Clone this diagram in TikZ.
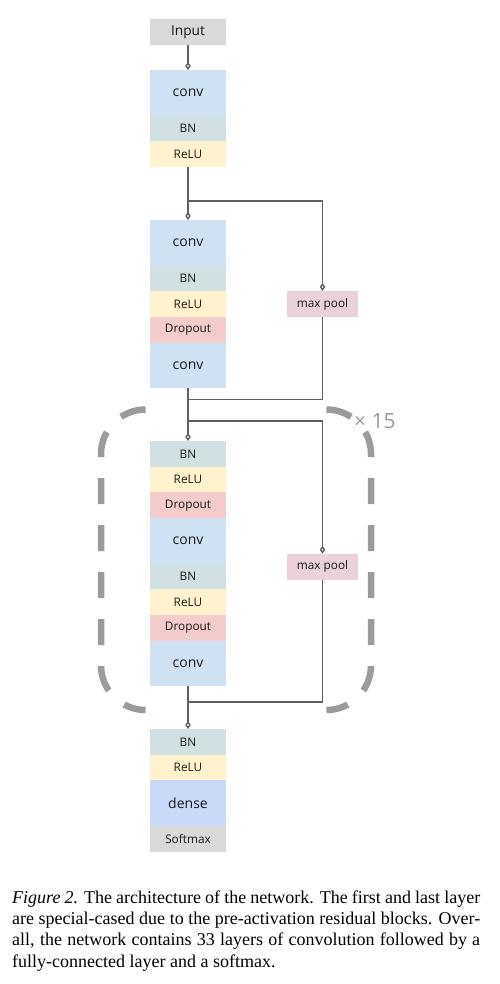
\documentclass[tikz,border=0pt]{standalone}
\usepackage{fontspec}
\setmainfont{Liberation Serif}
\newfontfamily\boxfont{Open Sans}
\usepackage{tikz}
\usetikzlibrary{arrows.meta,positioning}
\definecolor{convcol}{HTML}{CFE2F3}
\definecolor{bncol}{HTML}{D0E0E3}
\definecolor{relucol}{HTML}{FFF2CC}
\definecolor{dropcol}{HTML}{F4CCCC}
\definecolor{poolcol}{HTML}{EAD1DC}
\definecolor{densecol}{HTML}{C9DAF8}
\definecolor{iocol}{HTML}{D9D9D9}
\definecolor{wirecol}{HTML}{606060}
\definecolor{loopcol}{HTML}{9B9B9B}

\begin{document}
\begin{tikzpicture}[x=1pt, y=-1pt,
  layer/.style={minimum width=76pt, minimum height=25.7pt, inner sep=0pt, outer sep=0pt, text=black!90, font=\boxfont\fontsize{11.8}{13}\selectfont},
  biglayer/.style={layer, minimum height=45.5pt, font=\boxfont\fontsize{14}{15}\selectfont},
  convbox/.style={biglayer, fill=convcol},
  densebox/.style={biglayer, fill=densecol},
  bnbox/.style={layer, fill=bncol},
  relubox/.style={layer, fill=relucol},
  dropbox/.style={layer, fill=dropcol},
  iobox/.style={layer, fill=iocol},
  poolbox/.style={layer, fill=poolcol, minimum width=71pt, minimum height=26pt},
  wire/.style={draw=wirecol, line width=1.9pt},
  link/.style={wire, -{Diamond[open, length=8pt, width=5.5pt, line width=1.4pt]}},
  loopline/.style={draw=loopcol, line width=6.5pt, dash pattern=on 26pt off 21pt, rounded corners=44.6pt}
]
\useasboundingbox (0,0) rectangle (499,984);

% input and first layer
\node[iobox, anchor=north, font=\boxfont\fontsize{13.7}{15}\selectfont] (input) at (188,19.5) {Input};
\node[convbox, anchor=north] (conva) at (188,70) {conv};
\node[bnbox, below=0pt of conva] (bna) {BN};
\node[relubox, below=0pt of bna] (relua) {ReLU};

% first residual block
\node[convbox, anchor=north] (convb) at (188,220) {conv};
\node[bnbox, below=0pt of convb] (bnb) {BN};
\node[relubox, below=0pt of bnb] (relub) {ReLU};
\node[dropbox, below=0pt of relub] (dropb) {Dropout};
\node[convbox, below=0pt of dropb] (convc) {conv};
\node[poolbox] (poola) at (322.5,304) {max pool};

% repeated block
\node[bnbox, anchor=north] (bnc) at (188,441) {BN};
\node[relubox, below=0pt of bnc] (reluc) {ReLU};
\node[dropbox, below=0pt of reluc] (dropc) {Dropout};
\node[convbox, below=0pt of dropc] (convd) {conv};
\node[bnbox, below=0pt of convd] (bnd) {BN};
\node[relubox, below=0pt of bnd] (relud) {ReLU};
\node[dropbox, below=0pt of relud] (dropd) {Dropout};
\node[convbox, below=0pt of dropd] (conve) {conv};
\node[poolbox] (poolb) at (322.5,566.7) {max pool};

% output layers
\node[bnbox, anchor=north] (bne) at (188,729) {BN};
\node[relubox, below=0pt of bne] (relue) {ReLU};
\node[densebox, below=0pt of relue] (dense) {dense};
\node[iobox, below=0pt of dense] (softmax) {Softmax};

% connections
\coordinate (splita) at (188,201);
\coordinate (joina) at (188,399.5);
\coordinate (splitb) at (188,421);
\coordinate (joinb) at (188,702);
\draw[link] (input) -- (conva);
\draw[link] (relua) -- (convb);
\draw[link] (splita) -| (poola);
\draw[wire] (poola) |- (joina);
\draw[link] (convc) -- (bnc);
\draw[link] (splitb) -| (poolb);
\draw[wire] (poolb) |- (joinb);
\draw[link] (conve) -- (bne);

% repeat bracket
\draw[loopline] (145.6,409.5) -- (101,409.5) -- (101,710) -- (145.6,710);
\draw[loopline] (326.4,409.5) -- (371,409.5) -- (371,710) -- (326.4,710);
\node[anchor=west, inner sep=0pt, text=loopcol, font=\boxfont\fontsize{21}{24}\selectfont] (reps) at (354,421) {× 15};

% caption
\node[anchor=north west, inner sep=0pt, text width=468pt, align=justify, font=\fontsize{18}{21.3}\selectfont] (caption) at (12,890.5)
{\textit{Figure 2.} The architecture of the network. The first and last layer\linebreak
are special-cased due to the pre-activation residual blocks. Over-\linebreak
all, the network contains 33 layers of convolution followed by a\linebreak
fully-connected layer and a softmax.};
\end{tikzpicture}
\end{document}
